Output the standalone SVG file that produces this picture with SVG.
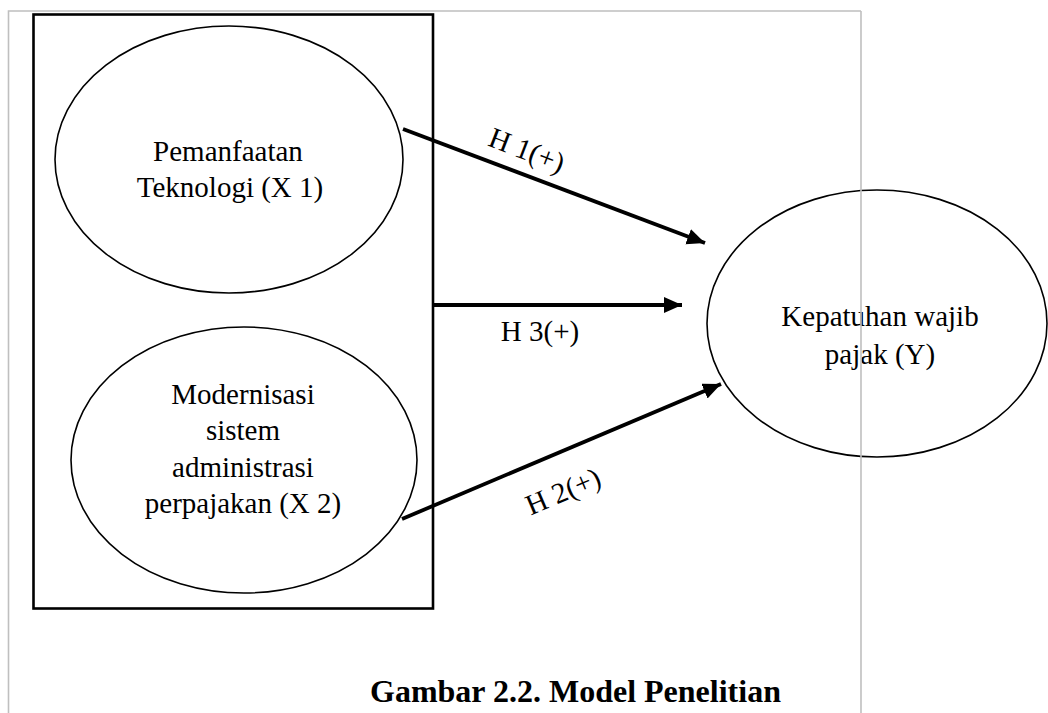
<svg xmlns="http://www.w3.org/2000/svg" width="1048" height="713" viewBox="0 0 1048 713">
<style>
.t{font-family:"Liberation Serif","Times New Roman",serif;font-size:29px;fill:#000;text-anchor:middle}
.cap{font-family:"Liberation Serif","Times New Roman",serif;font-size:32px;font-weight:bold;fill:#000}
.ell{fill:#fff;stroke:#000;stroke-width:1.6}
.arr{stroke:#000;stroke-width:3.8;fill:none;marker-end:url(#ah)}
.pg{stroke:#bfbfbf;stroke-width:1.6;fill:none}
</style>
<defs>
<marker id="ah" markerUnits="userSpaceOnUse" markerWidth="20" markerHeight="18" refX="18" refY="8" orient="auto">
<path d="M0,0 L18,8 L0,16 Z" fill="#000"/>
</marker>
</defs>
<rect width="1048" height="713" fill="#fff"/>
<path class="pg" d="M8.5,713 V11 H861"/>
<g id="frame">
<rect x="33.5" y="14.5" width="399.5" height="594" fill="none" stroke="#000" stroke-width="2.6"/>
</g>
<g id="x1">
<ellipse class="ell" cx="229" cy="159.5" rx="174" ry="133.5"/>
<text class="t" x="228" y="161">Pemanfaatan</text>
<text class="t" x="230" y="197">Teknologi (X 1)</text>
</g>
<g id="x2">
<ellipse class="ell" cx="244" cy="460" rx="173" ry="133"/>
<text class="t" x="243" y="404">Modernisasi</text>
<text class="t" x="243" y="440">sistem</text>
<text class="t" x="243" y="477">administrasi</text>
<text class="t" x="243" y="513">perpajakan (X 2)</text>
</g>
<g id="y">
<ellipse class="ell" cx="877" cy="323.5" rx="170" ry="133.5"/>
<text class="t" x="880" y="326">Kepatuhan wajib</text>
<text class="t" x="880" y="364">pajak (Y)</text>
</g>
<g id="connectors">
<line class="arr" x1="403" y1="129" x2="705" y2="243"/>
<line class="arr" x1="433" y1="305" x2="682" y2="305"/>
<line class="arr" x1="402" y1="519" x2="721" y2="384"/>
<text class="t" transform="translate(527,150) rotate(21)" x="0" y="10">H 1(+)</text>
<text class="t" x="540" y="341">H 3(+)</text>
<text class="t" transform="translate(563,491) rotate(-23)" x="0" y="10">H 2(+)</text>
</g>
<path class="pg" d="M861,11 V713"/>
<text class="cap" x="370" y="702">Gambar 2.2. Model Penelitian</text>
</svg>
